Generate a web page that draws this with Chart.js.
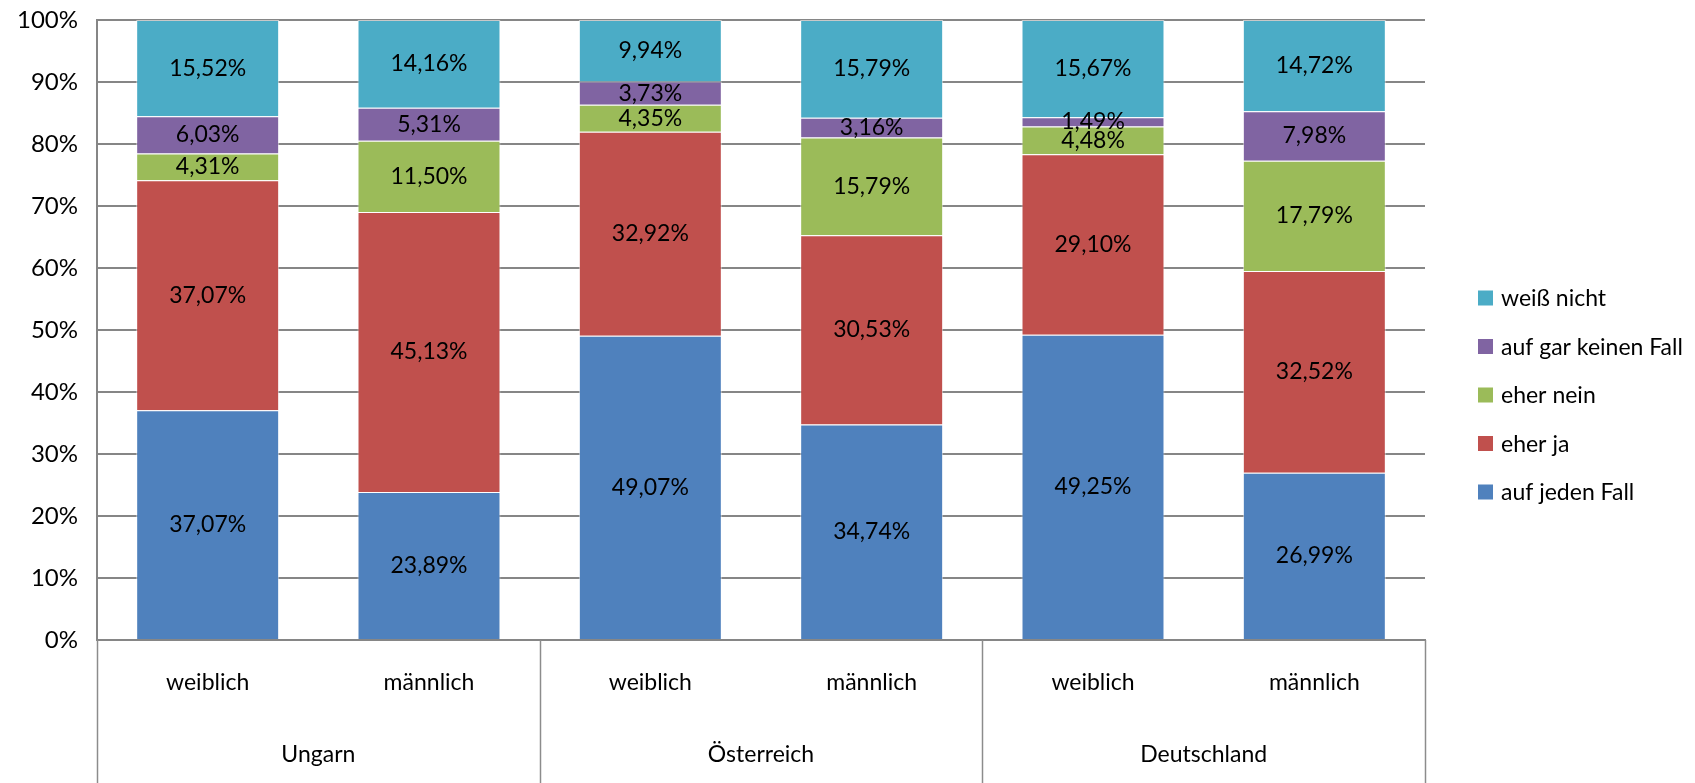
<!DOCTYPE html>
<html lang="de">
<head>
  <meta charset="UTF-8" />
  <title>Umfrage nach Land und Geschlecht</title>
  <script src="https://cdn.jsdelivr.net/npm/chart.js"></script>
  <style>
    * { margin: 0; padding: 0; box-sizing: border-box; }
    body { background: #ffffff; width: 1695px; height: 783px; overflow: hidden; }
    #wrap { width: 1695px; height: 783px; }
  </style>
</head>
<body>
  <div id="wrap">
    <canvas id="chart" width="1695" height="783"></canvas>
  </div>

  <script>
    // categories
    const subLabels = ['weiblich', 'männlich', 'weiblich', 'männlich', 'weiblich', 'männlich'];
    const countries = ['Ungarn', 'Österreich', 'Deutschland'];

    // series (percent)
    const aufJedenFall     = [37.07, 23.89, 49.07, 34.74, 49.25, 26.99];
    const eherJa           = [37.07, 45.13, 32.92, 30.53, 29.10, 32.52];
    const eherNein         = [4.31, 11.50, 4.35, 15.79, 4.48, 17.79];
    const aufGarKeinenFall = [6.03, 5.31, 3.73, 3.16, 1.49, 7.98];
    const weissNicht       = [15.52, 14.16, 9.94, 15.79, 15.67, 14.72];

    const yTicks = [0, 10, 20, 30, 40, 50, 60, 70, 80, 90, 100];

    const FONT = 'Lato, "Noto Sans", sans-serif';
    const GRID = '#868686';

    const fmt = v => v.toFixed(2).replace('.', ',') + '%';

    // labels inside every bar segment
    const segmentLabels = {
      id: 'segmentLabels',
      afterDatasetsDraw(chart) {
        const ctx = chart.ctx;
        ctx.save();
        ctx.font = '23px ' + FONT;
        ctx.fillStyle = '#000000';
        ctx.textAlign = 'center';
        ctx.textBaseline = 'middle';
        chart.data.datasets.forEach((ds, di) => {
          const meta = chart.getDatasetMeta(di);
          meta.data.forEach((bar, i) => {
            ctx.fillText(fmt(ds.data[i]), bar.x, (bar.y + bar.base) / 2);
          });
        });
        ctx.restore();
      }
    };

    // two-level category axis + legend
    const groupAxis = {
      id: 'groupAxis',
      afterDraw(chart) {
        const ctx = chart.ctx;
        const xs = chart.scales.x;
        const area = chart.chartArea;
        const n = subLabels.length;
        const per = n / countries.length;
        ctx.save();
        ctx.font = '23px ' + FONT;
        ctx.fillStyle = '#000000';
        ctx.textAlign = 'center';
        ctx.textBaseline = 'middle';
        subLabels.forEach((l, i) => ctx.fillText(l, xs.getPixelForValue(i), 683));

        const edge = i => {
          if (i <= 0) return area.left;
          if (i >= n) return area.right;
          return (xs.getPixelForValue(i - 1) + xs.getPixelForValue(i)) / 2;
        };
        ctx.strokeStyle = '#8c8c8c';
        ctx.lineWidth = 1.5;
        for (let g = 0; g <= countries.length; g++) {
          const x = Math.round(edge(g * per)) + 0.5;
          ctx.beginPath();
          ctx.moveTo(x, area.bottom);
          ctx.lineTo(x, 783);
          ctx.stroke();
        }
        countries.forEach((c, g) => {
          const cx = (edge(g * per) + edge((g + 1) * per)) / 2;
          ctx.fillText(c, cx, 755);
        });

        // legend, reversed order
        ctx.textAlign = 'left';
        const items = chart.data.datasets.slice().reverse();
        items.forEach((ds, k) => {
          const y = 298 + k * 48.5;
          ctx.fillStyle = ds.backgroundColor;
          ctx.fillRect(1478, y - 7.5, 15, 15);
          ctx.fillStyle = '#000000';
          ctx.fillText(ds.label, 1501, y + 1);
        });
        ctx.restore();
      }
    };

    const dataset = (label, data, color) => ({
      label, data,
      backgroundColor: color,
      borderColor: 'rgba(255,255,255,0.55)',
      borderWidth: 1,
      barPercentage: 0.646,
      categoryPercentage: 1
    });

    new Chart(document.getElementById('chart').getContext('2d'), {
      type: 'bar',
      data: {
        labels: subLabels,
        datasets: [
          dataset('auf jeden Fall', aufJedenFall, '#4F81BD'),
          dataset('eher ja', eherJa, '#C0504D'),
          dataset('eher nein', eherNein, '#9BBB59'),
          dataset('auf gar keinen Fall', aufGarKeinenFall, '#8064A2'),
          dataset('weiß nicht', weissNicht, '#4BACC6')
        ]
      },
      options: {
        responsive: false,
        animation: false,
        layout: { padding: { top: 20, right: 270, left: 0, bottom: 0 } },
        plugins: {
          legend: { display: false },
          tooltip: { enabled: false }
        },
        scales: {
          x: {
            stacked: true,
            grid: { display: false },
            ticks: { display: false },
            border: { display: true, color: GRID, width: 2 },
            afterFit: s => { s.height = 143; s.paddingLeft = 0; s.paddingRight = 0; }
          },
          y: {
            stacked: true,
            min: 0,
            max: 100,
            afterBuildTicks: s => { s.ticks = yTicks.map(v => ({ value: v })); },
            ticks: {
              padding: 19,
              color: '#000000',
              font: { family: FONT, size: 24 },
              callback: v => v + '%'
            },
            grid: { color: GRID, lineWidth: 2, drawTicks: false },
            border: { display: true, color: GRID, width: 2 },
            afterFit: s => { s.width = 97; s.paddingTop = 0; s.paddingBottom = 0; }
          }
        }
      },
      plugins: [segmentLabels, groupAxis]
    });
  </script>
</body>
</html>
